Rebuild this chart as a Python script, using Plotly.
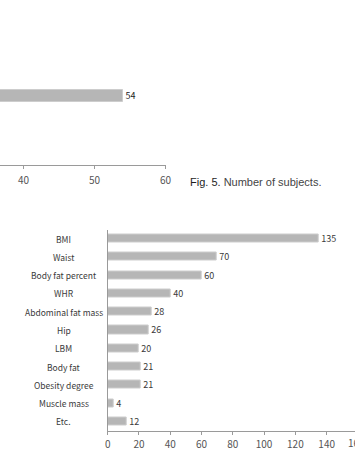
import plotly.graph_objects as go

# ---- data ----
top_categories = ["Subjects"]
top_values = [54]
top_ticks = [40, 50, 60]

categories = ["BMI", "Waist", "Body fat percent", "WHR", "Abdominal fat mass", "Hip",
              "LBM", "Body fat", "Obesity degree", "Muscle mass", "Etc."]
values = [135, 70, 60, 40, 28, 26, 20, 21, 21, 4, 12]
x_ticks = [0, 20, 40, 60, 80, 100, 120, 140, 160]

caption_bold = "Fig. 5."
caption_rest = " Number of subjects."

W, H = 355, 455
BAR = "#b6b6b6"
BAR_LINE = "#cdcdcd"
AX = "#9a9a9a"
TXT = "#3a3a3a"
FONT = "Noto Sans CJK KR"

def px_x(p):
    return p / W

def px_y(p):
    return 1 - p / H

fig = go.Figure()

# top (cropped) chart
fig.add_trace(go.Bar(
    x=top_values, y=top_categories, orientation="h",
    xaxis="x2", yaxis="y2", width=0.094,
    marker=dict(color=BAR, line=dict(color=BAR_LINE, width=1)),
    text=[str(v) for v in top_values], textposition="outside",
    textfont=dict(family=FONT, size=9, color="#222"),
    constraintext="none", cliponaxis=False, showlegend=False,
))

# bottom chart
fig.add_trace(go.Bar(
    x=values, y=categories, orientation="h",
    xaxis="x", yaxis="y", width=0.44,
    marker=dict(color=BAR, line=dict(color=BAR_LINE, width=1)),
    text=[str(v) for v in values], textposition="outside",
    textfont=dict(family=FONT, size=9, color=TXT),
    constraintext="none", cliponaxis=False, showlegend=False,
))

x0_px, scale = 107.7, 1.564
x_max = (W - x0_px) / scale
top_scale = 7.1
top_min = 40 - 23.5 / top_scale

annotations = []
for c in categories:
    annotations.append(dict(
        x=px_x(63.5), xref="paper", y=c, yref="y",
        text=c, showarrow=False, xanchor="center", yanchor="middle",
        font=dict(family=FONT, size=8.5, color=TXT),
    ))
for t in x_ticks:
    if t > x_max:
        annotations.append(dict(
            x=px_x(x0_px + t * scale - 1), xref="paper", y=px_y(442.7), yref="paper",
            text=str(t), showarrow=False, xanchor="center", yanchor="middle",
            font=dict(family=FONT, size=10, color="#555"),
        ))
annotations.append(dict(
    x=px_x(188), xref="paper", y=px_y(182), yref="paper",
    text="<span style='color:#1e1e1e'>" + caption_bold + "</span>" + caption_rest,
    showarrow=False, xanchor="left", yanchor="middle",
    font=dict(family="Liberation Sans", size=11, color="#444"),
))

fig.update_layout(
    template=None,
    width=W, height=H, margin=dict(l=0, r=0, t=0, b=0, autoexpand=False),
    paper_bgcolor="white", plot_bgcolor="white",
    bargap=0,
    xaxis=dict(domain=[px_x(x0_px), 1], range=[0, x_max], automargin=False,
               tickvals=x_ticks, ticktext=[str(t) for t in x_ticks],
               showgrid=False, zeroline=False, showline=True, linecolor=AX, linewidth=1,
               ticks="outside", ticklen=3, tickcolor=AX, ticklabelstandoff=1,
               tickfont=dict(family=FONT, size=10, color="#555")),
    yaxis=dict(domain=[px_y(430.5), px_y(229.5)], autorange="reversed", automargin=False,
               showticklabels=False, showgrid=False, zeroline=False,
               showline=True, linecolor=AX, linewidth=1, ticks=""),
    xaxis2=dict(domain=[0, px_x(165.5)], range=[top_min, 60], anchor="y2", automargin=False,
                tickvals=top_ticks, showgrid=False, zeroline=False,
                showline=True, linecolor=AX, linewidth=1,
                ticks="outside", ticklen=3, tickcolor=AX, ticklabelstandoff=3,
                tickfont=dict(family=FONT, size=10, color="#555")),
    yaxis2=dict(domain=[px_y(165), px_y(27)], range=[-0.5, 0.5], anchor="x2", automargin=False,
                showticklabels=False, showgrid=False, zeroline=False,
                showline=False, ticks=""),
    annotations=annotations,
)

fig.write_html("out.html")
